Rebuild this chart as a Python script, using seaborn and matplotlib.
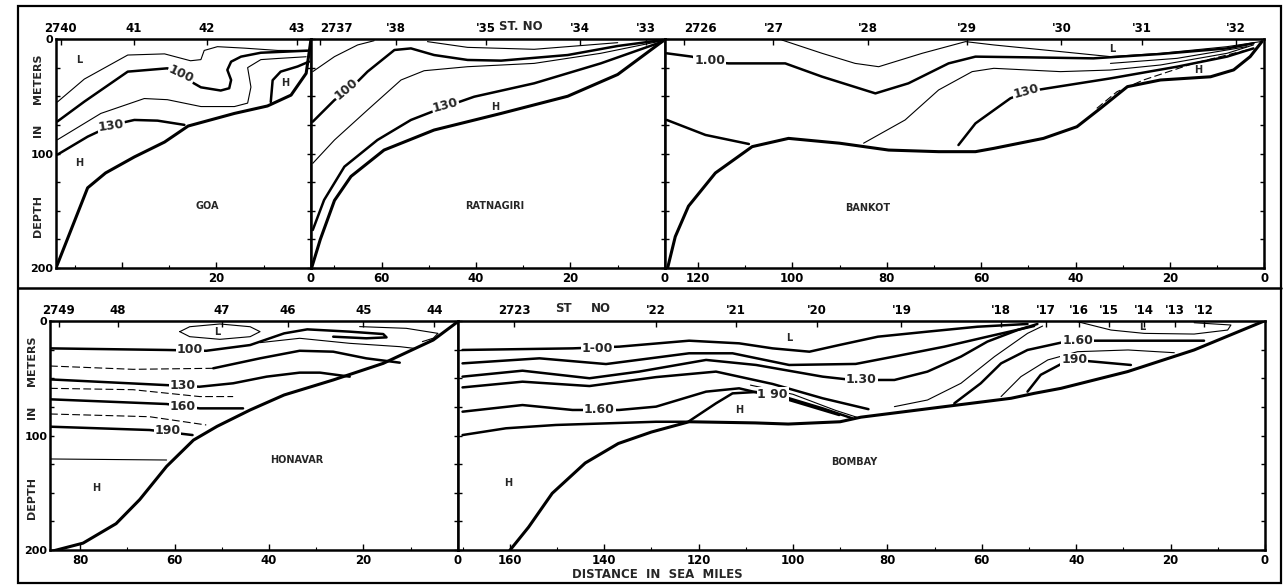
import matplotlib
matplotlib.use("Agg")
import matplotlib.pyplot as plt
from matplotlib.lines import Line2D
from matplotlib.patches import Rectangle
import seaborn as sns

sns.set_theme(style="white")
plt.rcParams['font.family'] = ['DejaVu Sans']
plt.rcParams['font.weight'] = 'bold'

# === Data: (distance in sea miles from coast, depth in m)

# --- GOA
goa_extent = 54
goa_station_mi = [53, 37.5, 22, 3]
goa_station_lbl = ["2740", "41", "42", "43"]
goa_dist_ticks = [40, 20, 0]
goa_dist_lbl = ["", "20", "0"]
goa_floor = [(54, 200), (47.3, 130), (43.5, 117), (37.4, 103), (31, 90), (26, 76),
             (16.2, 65), (9.2, 58.5), (4.2, 49), (1, 30), (0, 1)]
goa_top = [(53.7, 55), (48, 35), (38.8, 14), (31, 13), (25.5, 19), (23.3, 18),
           (22.6, 10), (19.8, 6.7), (14, 8), (7, 10), (0.5, 10)]
goa_100 = [(53.7, 72), (48, 54.7), (38.8, 28.5), (30.4, 25.6), (27.2, 33), (23.3, 42.2),
           (19.1, 45), (17.3, 43), (16.9, 35.8), (17.7, 27), (16.9, 19.8), (14.8, 15.4),
           (10.6, 12), (0.7, 10.2)]
goa_mid = [(53.7, 88), (44.5, 65), (35.3, 52), (30.4, 53), (23.3, 59), (16.2, 59),
           (13.4, 56), (12.7, 42), (13.4, 25), (10.6, 18), (7, 17), (1, 15.5)]
goa_h = [(8.5, 55), (8.1, 36), (6.4, 28.5), (2.8, 24), (0.4, 19.8)]
goa_130 = [(53.7, 101), (47.3, 85.3), (42, 75), (37.4, 70.7), (32.5, 71.3), (26.8, 75)]

# --- RATNAGIRI
rat_extent = 75
rat_station_mi = [73, 57, 38, 18, 4]
rat_station_lbl = ["2737", "'38", "'35", "'34", "'33"]
rat_dist_ticks = [60, 40, 20, 0]
rat_dist_lbl = ["60", "40", "20", "0"]
rat_floor = [(75, 202), (73, 175), (70, 141), (66.5, 120), (59.5, 97), (48.9, 79.5),
             (34.7, 65), (20.6, 50), (10, 31), (0.5, 2)]
rat_130 = [(74.6, 166.8), (72.2, 140.6), (67.9, 111.5), (60.9, 88.2), (53.8, 70.7),
           (47.5, 60.6), (40.4, 50.4), (27.7, 38.7), (13.6, 21.3), (0.5, 2.3)]
rat_mid = [(74.6, 108.6), (70, 88.2), (63, 62), (55.9, 35.8), (51, 27.7), (41.8, 24.2),
           (27.7, 21.3), (13.6, 12.5), (0.5, 1.5)]
rat_100 = [(74.6, 72.2), (70, 53.3), (66.5, 43), (63, 28.5), (57.3, 9.6), (53.8, 8.2),
           (48.9, 14), (41.8, 18.3), (34.7, 18.9), (20.6, 14), (10, 6.1), (0.5, 0.9)]
rat_top1 = [(74.6, 28.5), (70, 15.4), (65.1, 5.2), (61.6, 1.5)]
rat_top2 = [(50.3, 2.3), (41.8, 7.3), (27.7, 9), (10, 3.2)]

# --- BANKOT
ban_extent = 127
ban_station_mi = [123, 104, 84, 63, 43, 26, 6]
ban_station_lbl = ["2726", "'27", "'28", "'29", "'30", "'31", "'32"]
ban_dist_ticks = [120, 100, 80, 60, 40, 20, 0]
ban_dist_lbl = ["120", "100", "80", "60", "40", "20", "0"]
ban_floor = [(126.6, 203), (124.8, 172.6), (122, 146), (116.3, 117), (108.5, 94),
             (100.8, 86.8), (90, 91), (79.6, 97), (69, 98.4), (61.2, 98.4), (57.3, 95.5),
             (46.8, 86.8), (39.7, 76.6), (34.7, 60.5), (29, 41.6), (22, 35.8),
             (11.4, 33), (6.5, 27), (3, 15.4), (0.5, 2.3)]
ban_left = [(126.6, 70.7), (118.4, 83.8), (109.2, 91.7)]
ban_top = [(102.2, 0.9), (93.7, 12.5), (86.7, 21.3), (81.7, 24.2), (72.5, 12.5),
           (63.3, 2.3), (57.3, 5.2), (43.2, 11), (32.6, 15.4), (22, 12.5), (7.9, 6.7),
           (0.8, 2.3)]
ban_100 = [(126.6, 12.5), (121.3, 15.4), (117.7, 19.8), (113.5, 21.3), (101.5, 21.3),
           (93.7, 32.9), (82.4, 47.5), (75.4, 38.7), (66.9, 21.3), (61.2, 15.4),
           (50.3, 16), (36.2, 16.9), (22, 13.1), (7.9, 8.2), (2.3, 3.8)]
ban_mid = [(84.9, 91), (76.1, 70.7), (69, 44.5), (61.9, 28.5), (57.3, 25.6), (43.2, 28.5),
           (32.6, 27.1), (22, 22.7), (7.9, 12.5), (2.3, 5.2)]
ban_130 = [(64.8, 92.6), (61.2, 73.7), (60.2, 70.7), (53.8, 51.8), (50.3, 46), (46, 43.1),
           (32.6, 34.4), (18.5, 24.2), (7.9, 15.4), (2.3, 8.2)]
ban_dash = [(35.5, 60.6), (31.2, 46), (25.6, 35.8), (15, 21.3), (3.7, 9.6)]
ban_thin = [(32.6, 21.3), (18.5, 16.9), (3.7, 6.7)]

# --- HONAVAR
hon_extent = 86.4
hon_station_mi = [84.5, 72, 50, 36, 20, 5]
hon_station_lbl = ["2749", "48", "47", "46", "45", "44"]
hon_dist_ticks = [80, 60, 40, 20, 0]
hon_dist_lbl = ["80", "60", "40", "20", "0"]
hon_floor = [(86.4, 201.5), (79.4, 194), (72.4, 177), (67.4, 156), (61.7, 127), (56, 104),
             (51, 92), (44, 77.7), (36.8, 64.6), (26.4, 51.5), (15.8, 37), (5.2, 16.6),
             (0, 0.6)]
hon_low = [(58.9, 9.3), (56.8, 5), (50.4, 2.6), (44, 5), (41.9, 9.3), (44, 13.7),
           (50.4, 16), (56.8, 13.7), (58.9, 9.3)]
hon_100 = [(86.4, 23.9), (61.7, 25.3), (53.3, 26), (44, 21), (36.8, 10.8), (31.9, 7.3),
           (22.9, 9.3), (15.8, 11.4), (15.1, 14.3), (19.4, 15.1), (26.4, 13.7)]
hon_loop = [(20.8, 4.9), (10.9, 6.4), (4.2, 10.8), (5.2, 15), (7.5, 18)]
hon_b = [(41.9, 18.9), (33.5, 15.1), (22.9, 19.5), (12.3, 22.4), (9, 24)]
hon_c_thin = [(86.4, 39.3), (68.8, 42.2), (51.8, 41.3)]
hon_c = [(51.8, 41.3), (41.9, 32.6), (33.5, 26), (26.4, 26.8), (19.4, 32.6), (12.3, 36.4)]
hon_130 = [(86.4, 51), (61.7, 56), (54.7, 57.4), (47.6, 54.4), (40.5, 48.6), (33.5, 45.1),
           (29.2, 45.1), (22.9, 48.6)]
hon_d = [(86.4, 58.8), (68.8, 60), (54.7, 66), (47.6, 66)]
hon_160 = [(86.4, 68.4), (61.7, 72.5), (54.7, 76.3), (45.5, 76.3)]
hon_e = [(86.4, 81.2), (65.3, 83.6), (53.3, 90.8)]
hon_190 = [(86.4, 92.3), (65.3, 95.2), (56.2, 99.6)]
hon_f = [(86.4, 120.5), (61.7, 121.4)]

# --- BOMBAY
bom_extent = 171
bom_station_mi = [159, 129, 112, 95, 77, 56, 46.4, 39.4, 33, 25.6, 19, 13]
bom_station_lbl = ["2723", "'22", "'21", "'20", "'19", "'18", "'17", "'16", "'15",
                   "'14", "'13", "'12"]
bom_dist_ticks = [160, 140, 120, 100, 80, 60, 40, 20, 0]
bom_dist_lbl = ["160", "140", "120", "100", "80", "60", "40", "20", "0"]
bom_floor = [(160.5, 203), (156, 180), (151, 150.5), (144, 124), (137, 107), (130, 97),
             (122, 88), (108, 89), (101, 90), (90, 88), (85.6, 84), (67.9, 74.8),
             (53.8, 67.5), (48.9, 63.2), (43.2, 58.8), (29.1, 44.2), (15, 25.3), (0.5, 0.6)]
bom_base = [(170, 99.6), (160.8, 93.7), (150.2, 90.8), (139.6, 89.4), (129, 88), (122, 88)]
bom_100 = [(170, 25.3), (146.7, 23.9), (136.8, 22.4), (122, 17.2), (111.4, 19.5),
           (104.3, 23.9), (96.5, 26.8), (90.2, 21), (82, 13.7), (71.5, 9.3), (60.9, 5),
           (50.3, 2.6)]
bom_2 = [(170, 37), (153.7, 32.6), (139.6, 37.6), (122, 28.2), (112.8, 28.2),
         (100.8, 38.4), (86.7, 37.5), (78.5, 31), (67.9, 22.4), (58.8, 13.7), (48.9, 4.4)]
bom_130 = [(170, 48.6), (157.3, 43.4), (143.1, 50), (132.6, 44.2), (118.4, 34),
           (107.8, 38.4), (93.7, 48.6), (87.4, 51.5), (82, 51.5), (78.5, 51.5),
           (71.5, 44.2), (64.4, 31.1), (58.8, 18), (52.4, 7.9), (48.2, 2.6)]
bom_4 = [(170, 58), (157.3, 53), (143.1, 56.8), (129, 49), (116.3, 44.2), (104.3, 55),
         (93.7, 67.5), (84, 77)]
bom_4b = [(78.5, 74.8), (71.5, 69), (64.4, 54.4), (57.3, 31.1), (50.3, 10.8), (47.1, 4.4)]
bom_160 = [(170, 79.2), (157.3, 73.4), (146.7, 77.7), (136.8, 77.7), (129, 74.8),
           (118.4, 61.7), (111.4, 58.8), (100.8, 69), (90.2, 82.1)]
bom_5b = [(109, 56), (100, 64), (91, 78), (86.5, 84)]
bom_190 = [(122, 87.5), (116.3, 71.9), (112.8, 63.2), (107.8, 62), (100.8, 67.5),
           (93.7, 76.3), (87.4, 85)]
bom_r160 = [(65.8, 71.9), (60.2, 54.4), (55.9, 37), (50.3, 25.3), (43.2, 18.9),
            (39.7, 17.2), (34.7, 17.2), (12.9, 17.2)]
bom_r_thin = [(55.9, 66), (51.7, 48.6), (46, 34), (39.7, 26.8), (29, 25.3), (19.2, 27.7)]
bom_r190 = [(50.3, 61.7), (47.5, 47), (43.2, 37.6), (40.4, 34), (36.2, 35.5), (28.4, 38.4)]
bom_low = [(39.7, 0.6), (32.6, 7.9), (25.6, 10.8), (15, 11.4), (7.9, 7.9), (7.2, 3.5),
           (15, 1.5)]

# === Line styles: b = bold, t = thin, d = thin broken
STYLE = {'b': dict(lw=1.8, ls='-'), 't': dict(lw=0.8, ls='-'), 'd': dict(lw=0.8, ls=(0, (7, 3)))}

panels = [
    dict(name="GOA", extent=goa_extent, left=56, top=39, floor=goa_floor,
         lines=[(goa_top, 't'), (goa_100, 'b'), (goa_mid, 't'), (goa_h, 'b'), (goa_130, 'b')],
         stations=(goa_station_mi, goa_station_lbl), dist=(goa_dist_ticks, goa_dist_lbl),
         labels=[("100", 27.5, 31, -25), ("130", 42.3, 76, 8)],
         letters=[("L", 49, 18), ("H", 49, 108), ("H", 5.4, 38)], title_xy=(22, 146),
         ylab=True, first_left=False),
    dict(name="RATNAGIRI", extent=rat_extent, left=56 + goa_extent * 4.72, top=39,
         floor=rat_floor,
         lines=[(rat_130, 'b'), (rat_mid, 't'), (rat_100, 'b'), (rat_top1, 't'), (rat_top2, 't')],
         stations=(rat_station_mi, rat_station_lbl), dist=(rat_dist_ticks, rat_dist_lbl),
         labels=[("100", 67.5, 44, 40), ("130", 46.5, 58, 15)],
         letters=[("H", 36, 59)], title_xy=(36, 146), stno=[("ST. NO", 30.5)], ylab=False,
         first_left=True),
    dict(name="BANKOT", extent=ban_extent, left=56 + (goa_extent + rat_extent) * 4.72, top=39,
         floor=ban_floor,
         lines=[(ban_left, 'b'), (ban_top, 't'), (ban_100, 'b'), (ban_mid, 't'),
                (ban_130, 'b'), (ban_dash, 'd'), (ban_thin, 't')],
         stations=(ban_station_mi, ban_station_lbl), dist=(ban_dist_ticks, ban_dist_lbl),
         labels=[("1.00", 117.5, 19, 0), ("130", 50.5, 46, 15)],
         letters=[("L", 32.2, 9), ("H", 14, 27)], title_xy=(84, 148), ylab=False,
         first_left=True),
    dict(name="HONAVAR", extent=hon_extent, left=50, top=321, floor=hon_floor,
         lines=[(hon_low, 't'), (hon_100, 'b'), (hon_loop, 't'), (hon_b, 't'),
                (hon_c_thin, 'd'), (hon_c, 'b'), (hon_130, 'b'), (hon_d, 'd'),
                (hon_160, 'b'), (hon_e, 'd'), (hon_190, 'b'), (hon_f, 't')],
         stations=(hon_station_mi, hon_station_lbl), dist=(hon_dist_ticks, hon_dist_lbl),
         labels=[("100", 56.8, 25.3, 0), ("130", 58.2, 56.2, 0), ("160", 58.2, 74.8, 0),
                 ("190", 61.5, 95.8, 0)],
         letters=[("L", 51, 9.3), ("H", 76.6, 146)], title_xy=(34.2, 121.4), ylab=True,
         first_left=False),
    dict(name="BOMBAY", extent=bom_extent, left=50 + hon_extent * 4.72, top=321,
         floor=bom_floor,
         lines=[(bom_base, 'b'), (bom_100, 'b'), (bom_2, 'b'), (bom_130, 'b'), (bom_4, 'b'),
                (bom_4b, 't'), (bom_160, 'b'), (bom_5b, 't'), (bom_190, 'b'),
                (bom_r160, 'b'), (bom_r_thin, 't'), (bom_r190, 'b'), (bom_low, 't')],
         stations=(bom_station_mi, bom_station_lbl), dist=(bom_dist_ticks, bom_dist_lbl),
         labels=[("1-00", 141.4, 23.9, 0), ("1.30", 85.5, 51.5, 0), ("1.60", 141, 77.7, 0),
                 ("1 90", 104.3, 64, 0), ("1.60", 39.7, 17.2, 0), ("190", 40.4, 34, 0)],
         letters=[("L", 100.8, 15), ("L", 25.9, 5), ("H", 111.4, 77.7), ("H", 160.4, 141.5)],
         title_xy=(87, 123), stno=[("ST", 148.7), ("NO", 140.7)], ylab=False,
         first_left=False),
]

# === Figure
W, H = 1286, 588
PX_PER_MI = 4.72
PANEL_H = 229
fig = plt.figure(figsize=(W / 100, H / 100), dpi=100)

for p in panels:
    ax = fig.add_axes([p['left'] / W, 1 - (p['top'] + PANEL_H) / H,
                       p['extent'] * PX_PER_MI / W, PANEL_H / H])
    ax.set_xlim(p['extent'], 0)
    ax.set_ylim(200, 0)

    xs, ys = zip(*p['floor'])
    sns.lineplot(x=list(xs), y=list(ys), sort=False, estimator=None, ax=ax,
                 color='black', lw=2.2)
    for line, st in p['lines']:
        xs, ys = zip(*line)
        sns.lineplot(x=list(xs), y=list(ys), sort=False, estimator=None, ax=ax,
                     color='black', lw=STYLE[st]['lw'], linestyle=STYLE[st]['ls'])

    for txt, x, y, rot in p['labels']:
        ax.text(x, y, txt, ha='center', va='center', fontsize=9, rotation=rot, zorder=5,
                bbox=dict(facecolor='white', edgecolor='none', pad=0.6))
    for txt, x, y in p['letters']:
        ax.text(x, y, txt, ha='center', va='center', fontsize=7, zorder=5)
    ax.text(*p['title_xy'], p['name'], ha='center', va='center', fontsize=7)

    # axes styling
    for s in ax.spines.values():
        s.set_color('black')
        s.set_linewidth(1.8)
    ax.set_xticks(p['dist'][0])
    ax.set_xticklabels(p['dist'][1])
    ax.set_xticks(range(0, int(p['extent']) + 1, 10), minor=True)
    ax.set_yticks([0, 100, 200])
    ax.set_yticks(range(0, 201, 25), minor=True)
    ax.tick_params(axis='x', which='major', direction='in', bottom=True, length=4, width=1,
                   labelsize=8.5, pad=3, colors='black')
    ax.tick_params(axis='x', which='minor', direction='in', bottom=True, length=2.5,
                   width=0.8, colors='black')
    ax.tick_params(axis='y', which='both', direction='in', left=True, right=True,
                   length=3, width=1, labelsize=8, pad=2, colors='black')
    if p['ylab']:
        ax.set_yticklabels(["0", "100", "200"])
        for word, d in [("DEPTH", 155), ("IN", 80), ("METERS", 35)]:
            ax.annotate(word, xy=(0, d), xycoords=('axes fraction', 'data'),
                        xytext=(-13, 0), textcoords='offset points', rotation=90,
                        ha='center', va='center', fontsize=8)
    else:
        ax.set_yticklabels([])
    ax.set_xlabel("")
    ax.set_ylabel("")

    # station numbers along the top
    ax2 = ax.twiny()
    ax2.set_xlim(ax.get_xlim())
    ax2.set_xticks(p['stations'][0])
    ax2.set_xticklabels(p['stations'][1])
    ax2.tick_params(axis='x', direction='in', top=True, length=4, width=1, labelsize=8.5,
                    pad=3, colors='black')
    if p['first_left']:
        first = ax2.get_xticklabels()[0]
        first.set_horizontalalignment('left')
        first.set_x(p['extent'])
    for s in ax2.spines.values():
        s.set_visible(False)
    for txt, x in p.get('stno', []):
        ax2.annotate(txt, xy=(x, 1), xycoords=('data', 'axes fraction'), xytext=(0, 9),
                     textcoords='offset points', ha='center', va='center', fontsize=8.5)

# outer frame and separator
fig.add_artist(Rectangle((18 / W, 1 - 583 / H), (1281 - 18) / W, (583 - 6) / H,
                         fill=False, lw=1.6, edgecolor='black', transform=fig.transFigure))
fig.add_artist(Line2D([18 / W, 1281 / W], [1 - 288 / H] * 2, lw=1.8, color='black',
                      transform=fig.transFigure))
fig.text(657 / W, 1 - 575 / H, "DISTANCE  IN  SEA  MILES", ha='center', va='center',
         fontsize=8.5)

fig.savefig("out.png", dpi=100)
